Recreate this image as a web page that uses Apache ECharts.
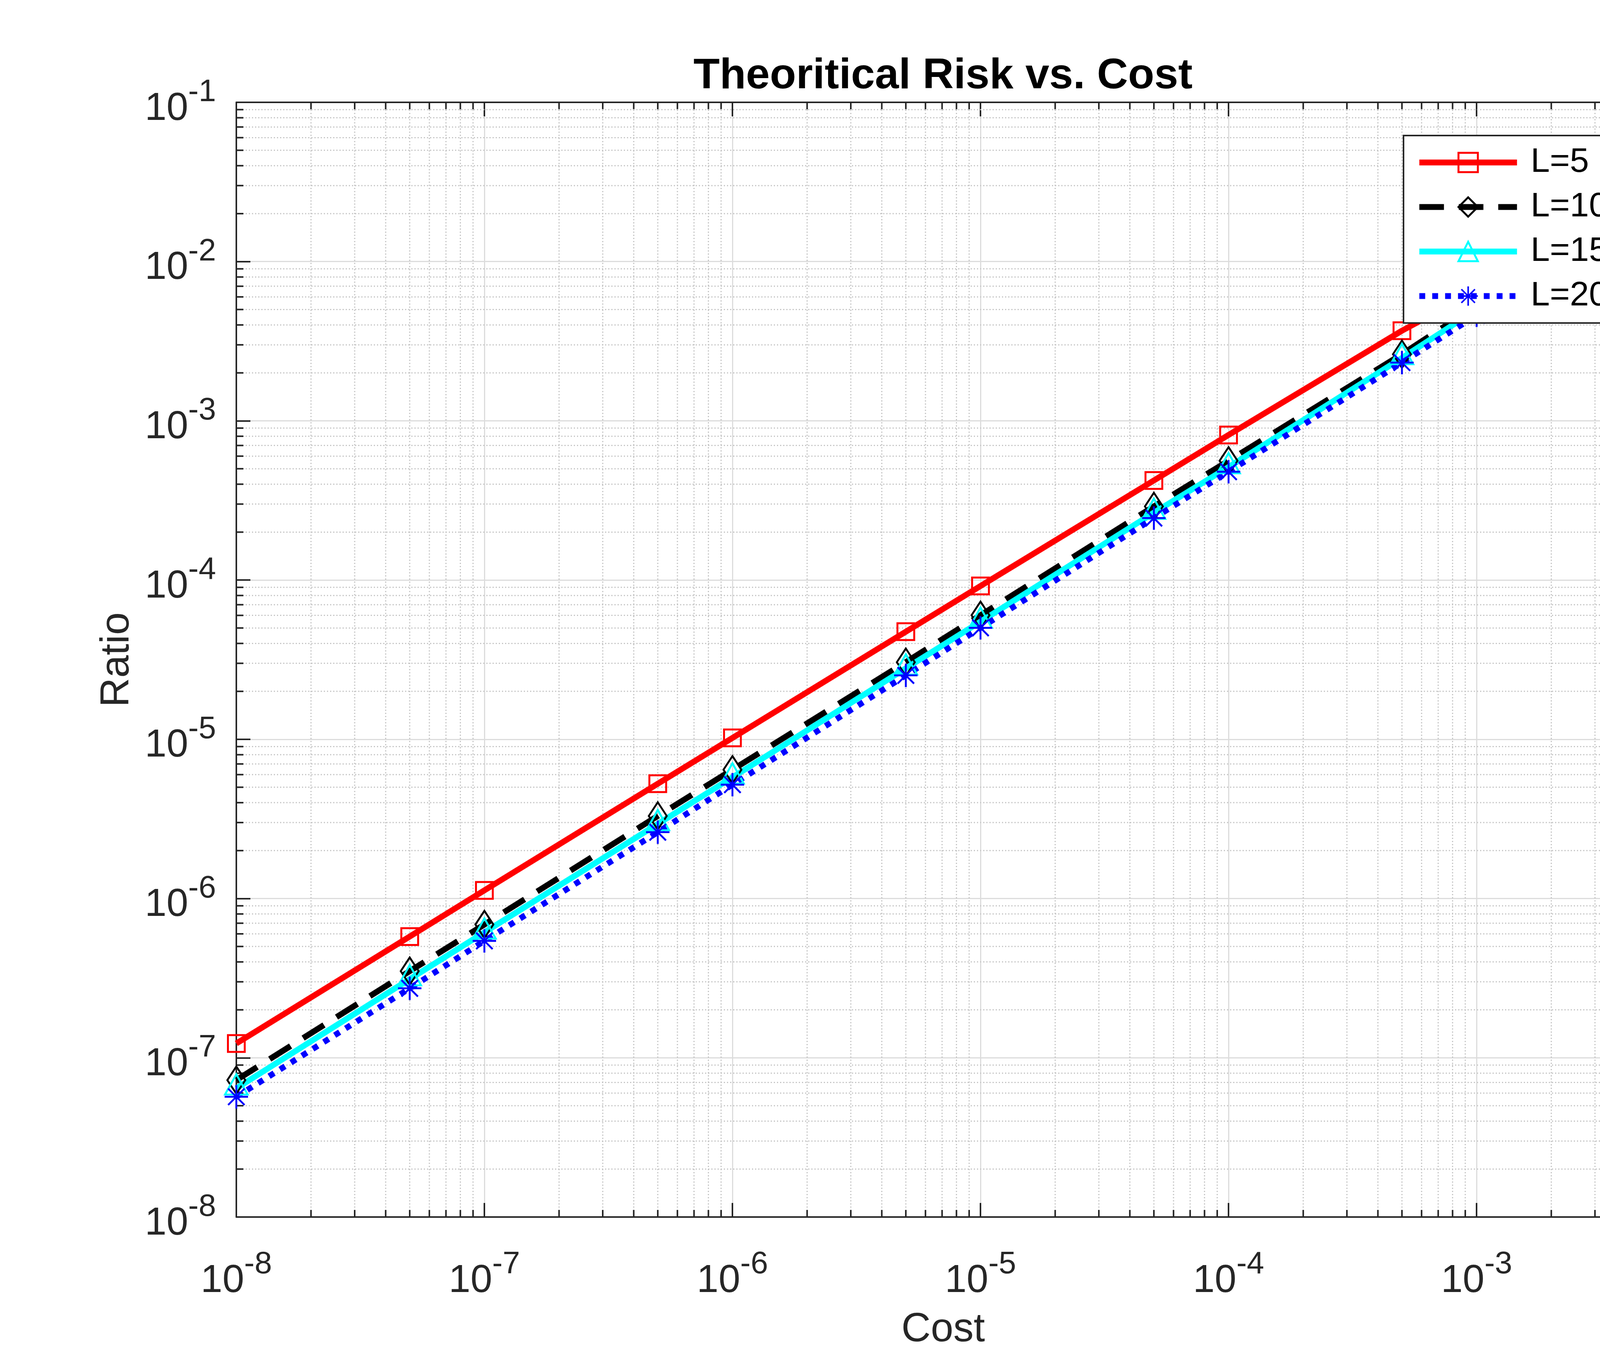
<!DOCTYPE html>
<html>
<head>
<meta charset="utf-8">
<script src="https://cdn.jsdelivr.net/npm/echarts@6/dist/echarts.min.js"></script>
<style>
html,body{margin:0;padding:0;background:#ffffff;}
#chart{width:4667px;height:3500px;}
</style>
</head>
<body>
<div id="chart"></div>
<script>
// ---------- data ----------
const cost = [1e-8, 5e-8, 1e-7, 5e-7, 1e-6, 5e-6, 1e-5, 5e-5, 1e-4, 5e-4, 1e-3, 5e-3];
const ratioL5  = [1.23e-7, 5.77e-7, 1.125e-6, 5.26e-6, 1.02e-5, 4.74e-5, 9.18e-5, 4.22e-4, 8.15e-4, 3.68e-3, 6.6e-3, 3.19e-2];
const ratioL10 = [7.24e-8, 3.50e-7, 6.87e-7, 3.30e-6, 6.44e-6, 3.05e-5, 6.01e-5, 2.90e-4, 5.61e-4, 2.62e-3, 5.3e-3, 2.47e-2];
const ratioL15 = [6.43e-8, 3.12e-7, 6.13e-7, 2.94e-6, 5.77e-6, 2.79e-5, 5.48e-5, 2.65e-4, 5.12e-4, 2.48e-3, 5.0e-3, 2.33e-2];
const ratioL20 = [5.69e-8, 2.73e-7, 5.42e-7, 2.61e-6, 5.19e-6, 2.52e-5, 5.01e-5, 2.45e-4, 4.79e-4, 2.32e-3, 4.6e-3, 2.22e-2];
const seriesNames = ['L=5', 'L=10', 'L=15', 'L=20'];
const titleText = 'Theoritical Risk vs. Cost';
const xName = 'Cost';
const yName = 'Ratio';
const xRange = [1e-8, 5e-3];
const yRange = [1e-8, 1e-1];
const minorMultipliers = [2, 3, 4, 5, 6, 7, 8, 9];
const xDecades = [-8, -7, -6, -5, -4, -3];
const yDecades = [-8, -7, -6, -5, -4, -3, -2];

// ---------- helpers ----------
const FONT = "'Liberation Sans', Arial, Helvetica, sans-serif";
const AX = '#262626';

function minorValues(decades, limit) {
  const out = [];
  decades.forEach(d => minorMultipliers.forEach(k => {
    const v = k * Math.pow(10, d);
    if (v < limit * 0.999) out.push(v);
  }));
  return out;
}
const minorX = minorValues(xDecades, xRange[1]);
const minorY = minorValues(yDecades, yRange[1]);

function powLabel(v) {
  const e = Math.log10(v);
  const r = Math.round(e);
  if (Math.abs(e - r) > 1e-6) return '';
  return '{b|10}{s|' + r + '}';
}
const labelRich = {
  b: {fontSize: 100, fontFamily: FONT, color: AX, padding: [34, 0, 0, 0]},
  s: {fontSize: 80, fontFamily: FONT, color: AX, padding: [0, 0, 50, 0]}
};

function baseAxis(extra) {
  return Object.assign({
    type: 'log',
    logBase: 10,
    axisLine: {show: true, lineStyle: {color: AX, width: 4}},
    axisTick: {show: true, inside: true, length: 36, lineStyle: {color: AX, width: 4}},
    minorTick: {show: false},
    minorSplitLine: {show: false}
  }, extra);
}

const star = 'path://M46 0L54 0L54 100L46 100Z M0 46L100 46L100 54L0 54Z M12.2 17.8L17.8 12.2L87.8 82.2L82.2 87.8Z M17.8 87.8L12.2 82.2L82.2 12.2L87.8 17.8Z';

function pairs(ys) { return cost.map((c, i) => [c, ys[i]]); }

const chart = echarts.init(document.getElementById('chart'), null, {renderer: 'canvas', devicePixelRatio: 1});

const option = {
  backgroundColor: '#ffffff',
  animation: false,
  title: {
    text: titleText,
    left: 2414,
    textAlign: 'center',
    top: 141,
    padding: 0,
    textStyle: {fontSize: 110, fontWeight: 'bold', color: '#000000', fontFamily: FONT}
  },
  grid: {left: 605, right: 443, top: 262, bottom: 384, containLabel: false},
  legend: {
    data: [
      {name: seriesNames[0]},
      {name: seriesNames[1]},
      {name: seriesNames[2]},
      {name: seriesNames[3], itemStyle: {borderWidth: 0}}
    ],
    orient: 'vertical',
    left: 3593,
    top: 347,
    padding: [25, 34, 25, 33],
    itemWidth: 250,
    itemHeight: 62,
    itemGap: 26,
    selectedMode: false,
    backgroundColor: '#ffffff',
    borderColor: AX,
    borderWidth: 4,
    lineStyle: {width: 15},
    itemStyle: {borderWidth: 5},
    textStyle: {fontSize: 88, color: '#000000', fontFamily: FONT, padding: [0, 0, 0, 30]}
  },
  xAxis: [
    baseAxis({
      position: 'bottom', min: xRange[0], max: xRange[1],
      name: xName, nameLocation: 'middle', nameGap: 237,
      nameTextStyle: {fontSize: 104, color: AX, fontFamily: FONT},
      axisLabel: {formatter: powLabel, rich: labelRich, margin: 80},
      splitLine: {show: true, lineStyle: {color: '#dcdcdc', width: 3}}
    }),
    baseAxis({
      position: 'top', min: xRange[0], max: xRange[1],
      axisLabel: {show: false}, splitLine: {show: false}
    })
  ],
  yAxis: [
    baseAxis({
      position: 'left', min: yRange[0], max: yRange[1],
      name: yName, nameLocation: 'middle', nameGap: 253,
      nameTextStyle: {fontSize: 104, color: AX, fontFamily: FONT},
      axisLabel: {formatter: powLabel, rich: labelRich, margin: 52},
      splitLine: {show: true, lineStyle: {color: '#dcdcdc', width: 3}}
    }),
    baseAxis({
      position: 'right', min: yRange[0], max: yRange[1],
      axisLabel: {show: false}, splitLine: {show: false}
    })
  ],
  series: [
    {
      type: 'custom', silent: true, z: 1,
      data: minorX.map(v => [v, yRange[0]]),
      encode: {x: 0, y: 1},
      renderItem: function (params, api) {
        const v = api.value(0);
        const p0 = api.coord([v, yRange[0]]);
        const p1 = api.coord([v, yRange[1]]);
        return {type: 'group', children: [
          {type: 'line', shape: {x1: p0[0], y1: p0[1], x2: p1[0], y2: p1[1]}, style: {stroke: '#c4c4c4', lineWidth: 3, lineDash: [3, 5]}},
          {type: 'line', shape: {x1: p0[0], y1: p0[1], x2: p0[0], y2: p0[1] - 18}, style: {stroke: AX, lineWidth: 4}},
          {type: 'line', shape: {x1: p1[0], y1: p1[1], x2: p1[0], y2: p1[1] + 18}, style: {stroke: AX, lineWidth: 4}}
        ]};
      }
    },
    {
      type: 'custom', silent: true, z: 1,
      data: minorY.map(v => [xRange[0], v]),
      encode: {x: 0, y: 1},
      renderItem: function (params, api) {
        const v = api.value(1);
        const p0 = api.coord([xRange[0], v]);
        const p1 = api.coord([xRange[1], v]);
        return {type: 'group', children: [
          {type: 'line', shape: {x1: p0[0], y1: p0[1], x2: p1[0], y2: p1[1]}, style: {stroke: '#c4c4c4', lineWidth: 3, lineDash: [3, 5]}},
          {type: 'line', shape: {x1: p0[0], y1: p0[1], x2: p0[0] + 18, y2: p0[1]}, style: {stroke: AX, lineWidth: 4}},
          {type: 'line', shape: {x1: p1[0], y1: p1[1], x2: p1[0] - 18, y2: p1[1]}, style: {stroke: AX, lineWidth: 4}}
        ]};
      }
    },
    {
      name: seriesNames[0], type: 'line', z: 3, clip: false,
      data: pairs(ratioL5),
      symbol: 'rect', symbolSize: 43,
      lineStyle: {color: '#ff0000', width: 15},
      itemStyle: {color: 'rgba(0,0,0,0)', borderColor: '#ff0000', borderWidth: 5},
      emphasis: {disabled: true}
    },
    {
      name: seriesNames[1], type: 'line', z: 3, clip: false,
      data: pairs(ratioL10),
      symbol: 'diamond', symbolSize: [46, 70],
      lineStyle: {color: '#000000', width: 15, type: [63, 38], cap: 'butt'},
      itemStyle: {color: 'rgba(0,0,0,0)', borderColor: '#000000', borderWidth: 5},
      emphasis: {disabled: true}
    },
    {
      name: seriesNames[2], type: 'line', z: 3, clip: false,
      data: pairs(ratioL15),
      symbol: 'triangle', symbolSize: [58, 52], symbolOffset: [0, -10],
      lineStyle: {color: '#00ffff', width: 15},
      itemStyle: {color: 'rgba(0,0,0,0)', borderColor: '#00ffff', borderWidth: 5},
      emphasis: {disabled: true}
    },
    {
      name: seriesNames[3], type: 'line', z: 3, clip: false,
      data: pairs(ratioL20),
      symbol: star, symbolSize: 60, symbolKeepAspect: true,
      lineStyle: {color: '#0000ff', width: 15, type: [15, 18], cap: 'butt'},
      itemStyle: {color: '#0000ff', borderWidth: 0},
      emphasis: {disabled: true}
    }
  ]
};
chart.setOption(option);
</script>
</body>
</html>
